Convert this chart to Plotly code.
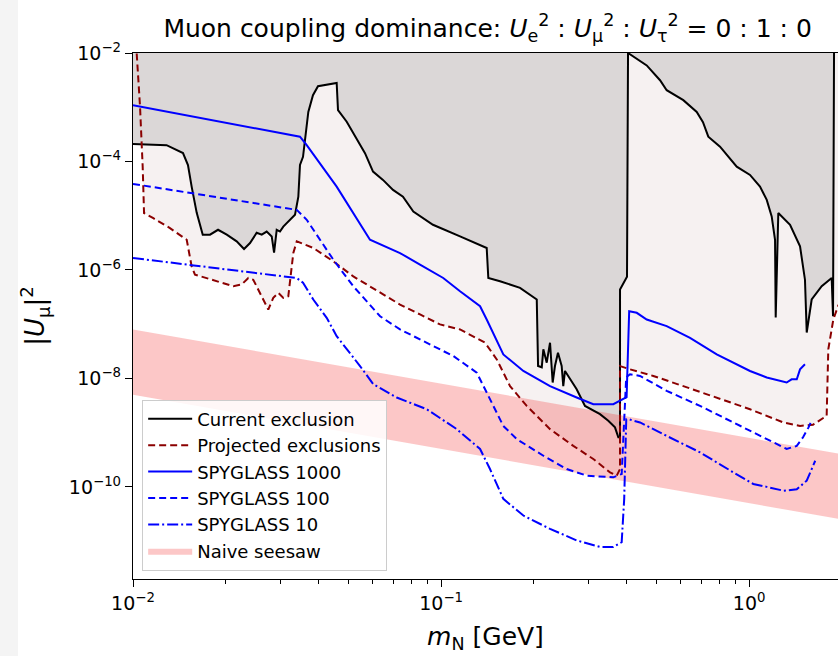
import plotly.graph_objects as go

# ---- data: (m_N [GeV], |U_mu|^2) ----
current_exclusion = [
    (0.01, 2.1e-4), (0.01285, 2.0e-4), (0.01453, 1.43e-4), (0.01508, 8.6e-5), (0.0155, 3.44e-5),
    (0.0161, 1.13e-5), (0.01684, 4.46e-6), (0.01778, 4.46e-6), (0.01888, 5.5e-6), (0.02015, 4.46e-6),
    (0.0217, 3.36e-6), (0.02293, 2.43e-6), (0.02398, 3.13e-6), (0.0252, 4.85e-6), (0.02617, 4.46e-6),
    (0.02716, 5.1e-6), (0.0282, 4.15e-6), (0.0287, 2.08e-6), (0.02927, 5.5e-6), (0.030, 5.1e-6),
    (0.03075, 6.3e-6), (0.03233, 8.4e-6), (0.03356, 1.04e-5), (0.03441, 2.25e-5), (0.03483, 8.6e-5),
    (0.03563, 1.22e-4), (0.03644, 3.8e-4), (0.03707, 8.2e-4), (0.03838, 1.67e-3), (0.03985, 2.44e-3),
    (0.04582, 2.81e-3), (0.04628, 8.85e-4), (0.04939, 5.4e-4), (0.05321, 2.67e-4), (0.05662, 1.42e-4),
    (0.06012, 6.5e-5), (0.06476, 4.57e-5), (0.06982, 2.99e-5), (0.07519, 2.25e-5), (0.08125, 1.19e-5),
    (0.0941, 6.8e-6), (0.1152, 4.15e-6), (0.1406, 2.54e-6), (0.1423, 7.1e-7), (0.1553, 6.2e-7),
    (0.1804, 4.67e-7), (0.2044, 2.85e-7), (0.2064, 1.69e-8), (0.2122, 1.6e-8), (0.2147, 3.43e-8),
    (0.2202, 1.95e-8), (0.2257, 4.55e-8), (0.2302, 8.4e-9), (0.2342, 1.69e-8), (0.2395, 2.98e-8),
    (0.2462, 1.69e-8), (0.2492, 7.2e-9), (0.2524, 1.37e-8), (0.262, 9.6e-9), (0.2754, 6.3e-9),
    (0.2931, 3.11e-9), (0.3279, 2.19e-9), (0.3488, 1.65e-9), (0.3667, 1.25e-9), (0.3760, 8.2e-10),
    (0.3808, 8.2e-10), (0.3808, 4.35e-7), (0.4012, 7.5e-7), (0.4043, 1.0e-2), (0.4649, 5.9e-3),
    (0.5135, 3.15e-3), (0.5397, 2.06e-3), (0.6111, 1.35e-3), (0.6756, 8.2e-4), (0.7079, 5.3e-4),
    (0.7366, 2.86e-4), (0.8041, 1.87e-4), (0.9109, 8.0e-5), (1.006, 5.65e-5), (1.084, 3.44e-5),
    (1.140, 1.96e-5), (1.183, 9.7e-6), (1.213, 3.6e-6), (1.219, 1.33e-7), (1.243, 1.12e-5),
    (1.357, 6.8e-6), (1.462, 2.72e-6), (1.517, 6.6e-7), (1.537, 7.0e-8), (1.595, 2.85e-7),
    (1.719, 5.0e-7), (1.852, 7.1e-7), (1.871, 1.4e-7), (1.885, 1.0e-2),
]

projected_exclusions = [
    (0.01028, 9.8e-3), (0.01054, 1.02e-3), (0.01075, 8.0e-5), (0.01086, 1.12e-5), (0.01164, 9.0e-6),
    (0.01318, 5.9e-6), (0.01494, 3.6e-6), (0.0155, 1.16e-6), (0.01589, 8.2e-7), (0.01869, 6.2e-7),
    (0.02117, 5.0e-7), (0.02253, 5.4e-7), (0.02368, 7.1e-7), (0.02457, 6.6e-7), (0.02583, 3.78e-7),
    (0.02748, 1.86e-7), (0.02853, 3.05e-7), (0.02962, 3.78e-7), (0.03075, 3.05e-7), (0.03192, 3.27e-7),
    (0.03314, 2.05e-6), (0.034, 3.36e-6), (0.03847, 2.54e-6), (0.04467, 1.44e-6), (0.05188, 7.6e-7),
    (0.06337, 3.78e-7), (0.07356, 2.3e-7), (0.08541, 1.51e-7), (0.09917, 9.9e-8), (0.1152, 8.0e-8),
    (0.1389, 4.55e-8), (0.1516, 2.24e-8), (0.1674, 7.2e-9), (0.1896, 3.11e-9), (0.2257, 1.16e-9),
    (0.2686, 5.7e-10), (0.3119, 3.26e-10), (0.3534, 1.85e-10), (0.3715, 1.61e-10), (0.3808, 2.13e-10),
    (0.3808, 1.69e-8), (0.4104, 1.47e-8), (0.4884, 1.11e-8), (0.6111, 7.2e-9), (0.7845, 4.44e-9),
    (1.006, 2.7e-9), (1.290, 1.54e-9), (1.462, 1.33e-9), (1.611, 1.4e-9), (1.784, 2.04e-9),
    (1.806, 3.43e-8), (1.875, 1.22e-7), (1.942, 2.14e-7), (2.0, 3.0e-7),
]

spyglass_1000 = [
    (0.01, 1.09e-3), (0.03483, 2.86e-4), (0.03663, 2.0e-4), (0.04582, 3.44e-5), (0.05877, 3.6e-6),
    (0.07356, 2.05e-6), (0.08541, 1.25e-6), (0.1016, 7.1e-7), (0.1152, 4.05e-7), (0.1338, 2.14e-7),
    (0.1406, 1.22e-7), (0.1592, 2.77e-8), (0.1849, 1.37e-8), (0.2257, 7.2e-9), (0.2754, 4.44e-9),
    (0.3119, 3.34e-9), (0.3622, 3.34e-9), (0.3808, 3.85e-9), (0.40, 4.5e-9), (0.4078, 1.73e-7),
    (0.4315, 1.62e-7), (0.4649, 1.22e-7), (0.5397, 9.2e-8), (0.6426, 5.6e-8), (0.7845, 2.77e-8),
    (1.006, 1.37e-8), (1.140, 1.04e-8), (1.323, 8.4e-9), (1.373, 9.6e-9), (1.427, 9.6e-9),
    (1.462, 1.47e-8), (1.517, 1.82e-8),
]

spyglass_100 = [
    (0.01, 3.86e-5), (0.034, 1.28e-5), (0.03663, 8.4e-6), (0.04467, 1.55e-6), (0.05188, 5.0e-7),
    (0.06337, 1.4e-7), (0.07356, 8.0e-8), (0.08979, 4.55e-8), (0.1096, 2.58e-8), (0.1305, 1.28e-8),
    (0.1441, 4.13e-9), (0.1592, 1.33e-9), (0.176, 7.6e-10), (0.2147, 3.75e-10), (0.2557, 2.13e-10),
    (0.297, 1.61e-10), (0.3622, 1.5e-10), (0.3856, 1.73e-10), (0.3988, 1.05e-8), (0.4104, 1.19e-8),
    (0.4422, 1.11e-8), (0.5397, 5.9e-9), (0.6923, 3.11e-9), (0.8882, 1.54e-9), (1.084, 8.7e-10),
    (1.323, 5.0e-10), (1.427, 5.7e-10), (1.497, 8.3e-10), (1.558, 1.25e-9), (1.601, 1.77e-9),
]

spyglass_10 = [
    (0.01, 1.66e-6), (0.03075, 7.4e-7), (0.034, 7.1e-7), (0.03563, 5.8e-7), (0.03847, 2.85e-7),
    (0.04253, 1.31e-7), (0.04582, 6.0e-8), (0.05456, 1.69e-8), (0.06026, 7.8e-9), (0.07178, 4.44e-9),
    (0.08979, 2.7e-9), (0.1124, 1.16e-9), (0.1338, 5.0e-10), (0.1441, 2.13e-10), (0.1592, 6.0e-11),
    (0.1849, 2.96e-11), (0.2257, 1.68e-11), (0.2754, 1.03e-11), (0.3279, 7.8e-12), (0.3622, 7.8e-12),
    (0.3856, 9.6e-12), (0.3929, 6.0e-11), (0.3990, 1.77e-9), (0.4055, 1.77e-9), (0.4422, 1.54e-9),
    (0.5397, 8.7e-10), (0.6923, 4.33e-10), (0.8882, 1.85e-10), (1.031, 1.13e-10), (1.140, 1.0e-10),
    (1.290, 8.5e-11), (1.427, 9.0e-11), (1.537, 1.3e-10), (1.638, 3.03e-10),
]

# naive seesaw band edges
seesaw_mass = [0.01, 2.0]
seesaw_upper = [8.0e-8, 4.0e-10]
seesaw_lower = [5.0e-9, 2.5e-11]

x_ticks = [1e-2, 1e-1, 1e0]
x_ticktext = ["10<sup>\u22122</sup>", "10<sup>\u22121</sup>", "10<sup>0</sup>"]
y_ticks = [1e-2, 1e-4, 1e-6, 1e-8, 1e-10]
y_ticktext = ["10<sup>\u22122</sup>", "10<sup>\u22124</sup>", "10<sup>\u22126</sup>",
              "10<sup>\u22128</sup>", "10<sup>\u221210</sup>"]
x_minor = [k * 10.0 ** e for e in (-2, -1, 0) for k in range(2, 10)]

Y_TOP = 1.3e-2  # slightly above the frame so fills reach the top edge


def unzip(pairs):
    return [p[0] for p in pairs], [p[1] for p in pairs]


fig = go.Figure()

# light shading: reach of projected experiments
pm, pu = unzip(projected_exclusions)
fig.add_trace(go.Scatter(
    x=pm + [pm[-1], pm[0]], y=pu + [Y_TOP, Y_TOP], mode="lines", fill="toself",
    fillcolor="#f6f1f1", line=dict(width=0), showlegend=False, hoverinfo="skip"))

# grey shading: currently excluded
cm, cu = unzip(current_exclusion)
fig.add_trace(go.Scatter(
    x=cm + [cm[-1], cm[0]], y=cu + [Y_TOP, Y_TOP], mode="lines", fill="toself",
    fillcolor="#dbd7d7", line=dict(width=0), showlegend=False, hoverinfo="skip"))

# naive seesaw band
fig.add_trace(go.Scatter(
    x=seesaw_mass + seesaw_mass[::-1], y=seesaw_upper + seesaw_lower[::-1],
    mode="lines", fill="toself", fillcolor="rgba(245,40,40,0.26)", line=dict(width=0),
    name="Naive seesaw", legendrank=6, hoverinfo="skip"))

curves = [
    ("Current exclusion", current_exclusion, "black", "solid"),
    ("Projected exclusions", projected_exclusions, "#8b0000", "7px,4px"),
    ("SPYGLASS 1000", spyglass_1000, "#0000ff", "solid"),
    ("SPYGLASS 100", spyglass_100, "#0000ff", "7px,4px"),
    ("SPYGLASS 10", spyglass_10, "#0000ff", "11px,3px,2px,3px"),
]
for rank, (name, pts, color, dash) in enumerate(curves, start=1):
    xs, ys = unzip(pts)
    fig.add_trace(go.Scatter(
        x=xs, y=ys, mode="lines", name=name, legendrank=rank,
        line=dict(color=color, width=2, dash=dash)))

title_text = ("Muon coupling dominance: "
              "<i>U</i><sub>e</sub><sup>2</sup> : <i>U</i><sub>\u03bc</sub><sup>2</sup> : "
              "<i>U</i><sub>\u03c4</sub><sup>2</sup> = 0 : 1 : 0")

fig.update_layout(
    width=838, height=656,
    margin=dict(l=133, r=0, t=53, b=77),
    paper_bgcolor="white", plot_bgcolor="white",
    font=dict(family="DejaVu Sans", size=19, color="black"),
    title=dict(text=title_text, x=0.503, xref="paper", xanchor="center",
               y=1 - 28 / 656, yref="container", yanchor="middle",
               font=dict(size=25)),
    legend=dict(x=0.013, y=0.016, xanchor="left", yanchor="bottom",
                bgcolor="rgba(255,255,255,0.85)", bordercolor="#cccccc", borderwidth=1,
                font=dict(size=18), itemwidth=44, tracegroupgap=0),
    shapes=[dict(type="rect", xref="paper", yref="paper", x0=-133 / 705, x1=(18 - 133) / 705,
                 y0=-0.5, y1=1.5, fillcolor="#f4f4f4", line=dict(width=0), layer="below")],
)

fig.update_xaxes(
    type="log", range=[-2, 0.2882], tickvals=x_ticks, ticktext=x_ticktext,
    ticks="outside", ticklen=7, tickwidth=1.3, tickcolor="black",
    showline=True, linecolor="black", linewidth=1.3, mirror=True,
    showgrid=False, zeroline=False,
    minor=dict(tickvals=x_minor, ticks="outside", ticklen=4, tickwidth=1, tickcolor="black",
               showgrid=False),
    title=dict(text="<i>m</i><sub>N</sub> [GeV]", font=dict(size=25), standoff=14),
)
fig.update_yaxes(
    type="log", range=[-11.699, -2], tickvals=y_ticks, ticktext=y_ticktext,
    ticks="outside", ticklen=7, tickwidth=1.3, tickcolor="black",
    showline=True, linecolor="black", linewidth=1.3, mirror=False,
    showgrid=False, zeroline=False,
    title=dict(text="|<i>U</i><sub>\u03bc</sub>|<sup>2</sup>", font=dict(size=26), standoff=16),
)

fig.write_html("out.html")
